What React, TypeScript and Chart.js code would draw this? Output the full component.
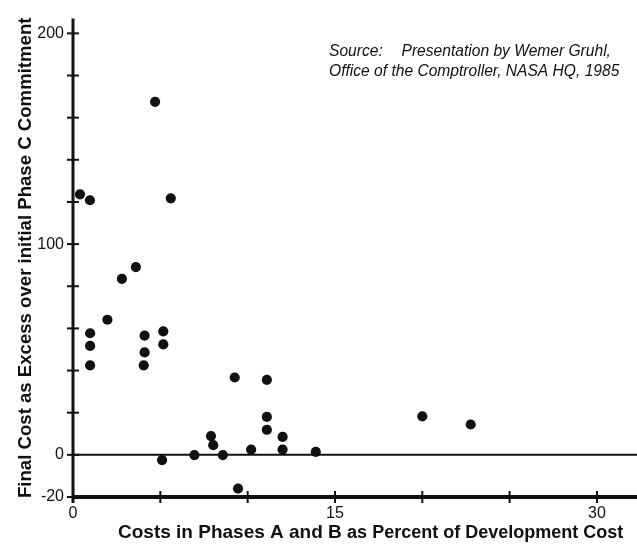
import React, { useEffect, useRef } from 'react';
import { Chart, registerables } from 'chart.js';

Chart.register(...registerables);

// Data
const phaseABPercent = [
  0.4, 0.97, 4.7, 5.6, 3.6, 2.8, 1.97, 0.98, 0.98, 0.98, 4.1, 4.1, 4.05, 5.17, 5.17,
  9.26, 11.1, 11.1, 11.1, 12.0, 12.0, 7.9, 8.03, 6.95, 8.58, 10.2, 5.1, 9.45, 13.9, 20.0, 22.77,
];
const costOverrunPercent = [
  123.6, 120.8, 167.5, 121.7, 89.1, 83.5, 64.1, 57.7, 51.7, 42.5, 56.6, 48.6, 42.5, 58.6, 52.4,
  36.7, 35.6, 18.0, 11.9, 8.5, 2.5, 8.9, 4.6, -0.1, -0.1, 2.5, -2.5, -16.0, 1.4, 18.3, 14.4,
];
const xTickValues = [0, 5, 10, 15, 20, 25, 30];
const xTickLabels = ['0', '', '', '15', '', '', '30'];
const yTickValues = [-20, 0, 20, 40, 60, 80, 100, 120, 140, 160, 180, 200];
const yTickLabels = ['-20', '0', '', '', '', '', '100', '', '', '', '', '200'];
const yTitle = 'Final Cost as Excess over initial Phase C Commitment';
const xTitleMain = 'Costs in Phases A and B';
const xTitleSub = 'as Percent of Development Cost';
const sourceLabel = 'Source:';
const sourceLine1 = 'Presentation by Wemer Gruhl,';
const sourceLine2 = 'Office of the Comptroller, NASA HQ, 1985';

const FONT = '"Liberation Sans", Arial, Helvetica, sans-serif';
const INK = '#111111';

const axesPlugin = {
  id: 'axesDraw',
  beforeDatasetsDraw(chart: any) {
    const { ctx, chartArea, scales } = chart;
    const x = scales.x;
    const y = scales.y;
    const left = chartArea.left;
    const right = chart.width;
    const top = chartArea.top;
    const y0 = y.getPixelForValue(0);
    const yb = y.getPixelForValue(-20);
    const line = (x1: number, y1: number, x2: number, y2: number) => {
      ctx.beginPath();
      ctx.moveTo(x1, y1);
      ctx.lineTo(x2, y2);
      ctx.stroke();
    };
    ctx.save();
    ctx.strokeStyle = INK;
    ctx.lineCap = 'butt';
    ctx.lineWidth = 2;
    line(left, y0, right, y0);
    ctx.lineWidth = 4;
    line(left, yb, right, yb);
    ctx.lineWidth = 3;
    line(left, top, left, yb + 6);
    ctx.lineWidth = 2;
    yTickValues.forEach((v) => {
      const py = y.getPixelForValue(v);
      line(left - 6, py, left + 6, py);
    });
    xTickValues.forEach((v) => {
      const px = x.getPixelForValue(v);
      line(px, yb - 6, px, yb + 6);
    });
    ctx.restore();
  },
  afterDraw(chart: any) {
    const { ctx } = chart;
    ctx.save();
    ctx.fillStyle = INK;
    ctx.textBaseline = 'alphabetic';
    ctx.textAlign = 'left';
    // source note
    ctx.font = `italic 15.6px ${FONT}`;
    ctx.fillText(sourceLabel, 329, 55.5);
    ctx.fillText(sourceLine1, 401.5, 55.5);
    ctx.fillText(sourceLine2, 329, 76);
    // x axis title in two sizes
    ctx.font = `bold 19px ${FONT}`;
    const w1 = ctx.measureText(xTitleMain + ' ').width;
    ctx.fillText(xTitleMain, 118, 538);
    ctx.font = `bold 18px ${FONT}`;
    ctx.fillText(xTitleSub, 118 + w1, 538);
    ctx.restore();
  },
};

export default function App() {
  const canvasRef = useRef<HTMLCanvasElement | null>(null);

  useEffect(() => {
    if (!canvasRef.current) return;
    const points = phaseABPercent.map((v, i) => ({ x: v, y: costOverrunPercent[i] }));
    const chart = new Chart(canvasRef.current, {
      type: 'scatter',
      data: {
        datasets: [
          {
            data: points,
            backgroundColor: INK,
            borderWidth: 0,
            pointRadius: 5.1,
            pointHoverRadius: 5.1,
          },
        ],
      },
      plugins: [axesPlugin],
      options: {
        animation: false,
        responsive: true,
        maintainAspectRatio: false,
        layout: { padding: { top: 14, right: 1, bottom: 0, left: 0 } },
        plugins: {
          legend: { display: false },
          tooltip: { enabled: false },
        },
        scales: {
          x: {
            type: 'linear',
            min: 0,
            max: 32,
            border: { display: false },
            grid: { display: false, drawTicks: false },
            afterBuildTicks: (scale: any) => {
              scale.ticks = xTickValues.map((v) => ({ value: v }));
            },
            afterFit: (scale: any) => {
              scale.height = 49;
            },
            ticks: {
              padding: 7,
              color: INK,
              font: { family: FONT, size: 16 },
              maxRotation: 0,
              autoSkip: false,
              callback: (value: any) => {
                const i = xTickValues.indexOf(Number(value));
                return i >= 0 ? xTickLabels[i] : '';
              },
            },
          },
          y: {
            type: 'linear',
            min: -20,
            max: 207,
            border: { display: false },
            grid: { display: false, drawTicks: false },
            afterBuildTicks: (scale: any) => {
              scale.ticks = yTickValues.map((v) => ({ value: v }));
            },
            afterFit: (scale: any) => {
              scale.width = 73;
            },
            title: {
              display: true,
              text: yTitle,
              color: INK,
              font: { family: FONT, size: 18.6, weight: 'bold' },
              padding: { top: 14.5, bottom: 0 },
            },
            ticks: {
              padding: 9,
              color: INK,
              font: { family: FONT, size: 16 },
              autoSkip: false,
              callback: (value: any) => {
                const i = yTickValues.indexOf(Number(value));
                return i >= 0 ? yTickLabels[i] : '';
              },
            },
          },
        },
      },
    });
    return () => chart.destroy();
  }, []);

  return (
    <div style={{ position: 'fixed', left: 0, top: 0, width: 637, height: 546, background: '#fff' }}>
      <canvas ref={canvasRef} />
    </div>
  );
}
